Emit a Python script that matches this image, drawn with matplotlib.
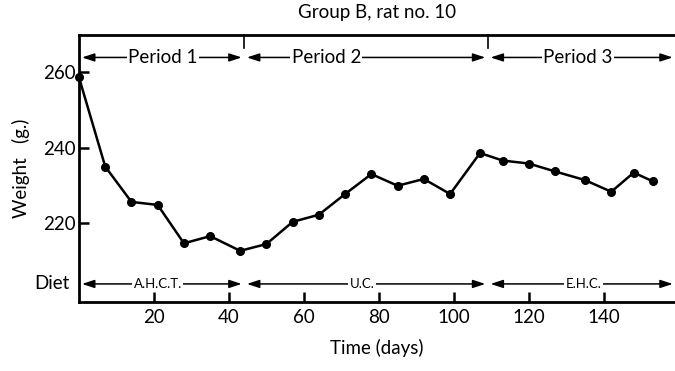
import matplotlib
import matplotlib.pyplot as plt
import numpy as np

matplotlib.rc('font', family=['Lato', 'DejaVu Sans'], size=13.5)

## Body weight of rat no. 10 (group B)
days = [0, 7, 14, 21, 28, 35, 43, 50, 57, 64, 71, 78, 85, 92, 99,
        107, 113, 120, 127, 135, 142, 148, 153]
weight = [258.7, 235.0, 225.6, 224.8, 214.6, 216.5, 212.6, 214.4, 220.3,
          222.2, 227.7, 233.0, 229.9, 231.7, 227.7,
          238.6, 236.6, 235.8, 233.7, 231.4, 228.3, 233.4, 231.1]

## Experimental periods and diets
period_edges = [0, 44, 109, 159]
period_names = ['Period 1', 'Period 2', 'Period 3']
diet_names = ['A.H.C.T.', 'U.C.', 'E.H.C.']

fig = plt.figure(figsize=(6.75, 3.71), dpi=100)
ax = fig.add_axes([0.117, 0.186, 0.883, 0.72])

ax.plot(days, weight, color='k', lw=1.8, marker='o', ms=5.5, clip_on=False, zorder=3)

ax.set_xlim(0, 159)
ax.set_ylim(199, 270)
ax.set_xticks([20, 40, 60, 80, 100, 120, 140])
ax.set_yticks([220, 240, 260])
ax.tick_params(direction='in', length=7, width=1.8, labelsize=13.5, pad=5)
ax.tick_params(axis='y', pad=2)
for side in ['left', 'bottom', 'top']:
    ax.spines[side].set_linewidth(2)
ax.spines['right'].set_visible(False)

ax.set_title('Group B, rat no. 10', fontsize=13.5, pad=12)
ax.set_xlabel('Time (days)', fontsize=13.5, labelpad=9)
ax.set_ylabel('Weight   (g.)', fontsize=13.5, labelpad=10)

# short dividers hanging from the top spine
for d in period_edges[1:-1]:
    ax.plot([d, d], [270, 266.5], color='k', lw=1.2, clip_on=False)

def span_row(y, names, fs, labpos):
    for i, name in enumerate(names):
        a, b = period_edges[i] + 0.8, period_edges[i + 1] - 0.6
        ax.annotate('', xy=(a, y), xytext=(b, y),
                    arrowprops=dict(arrowstyle='<|-|>,head_length=0.55,head_width=0.18',
                                    color='k', lw=1.1, shrinkA=0, shrinkB=0))
        ax.text(labpos[i], y, name, fontsize=fs, ha='center', va='center',
                bbox=dict(facecolor='white', edgecolor='none', pad=1))

span_row(264, period_names, 13.5, [22.4, 66, 133])
span_row(203.8, diet_names, 9.5, [21, 75.5, 134.6])

ax.text(-2.5, 203.8, 'Diet', fontsize=13.5, ha='right', va='center')

fig.savefig('out.png', dpi=100)
